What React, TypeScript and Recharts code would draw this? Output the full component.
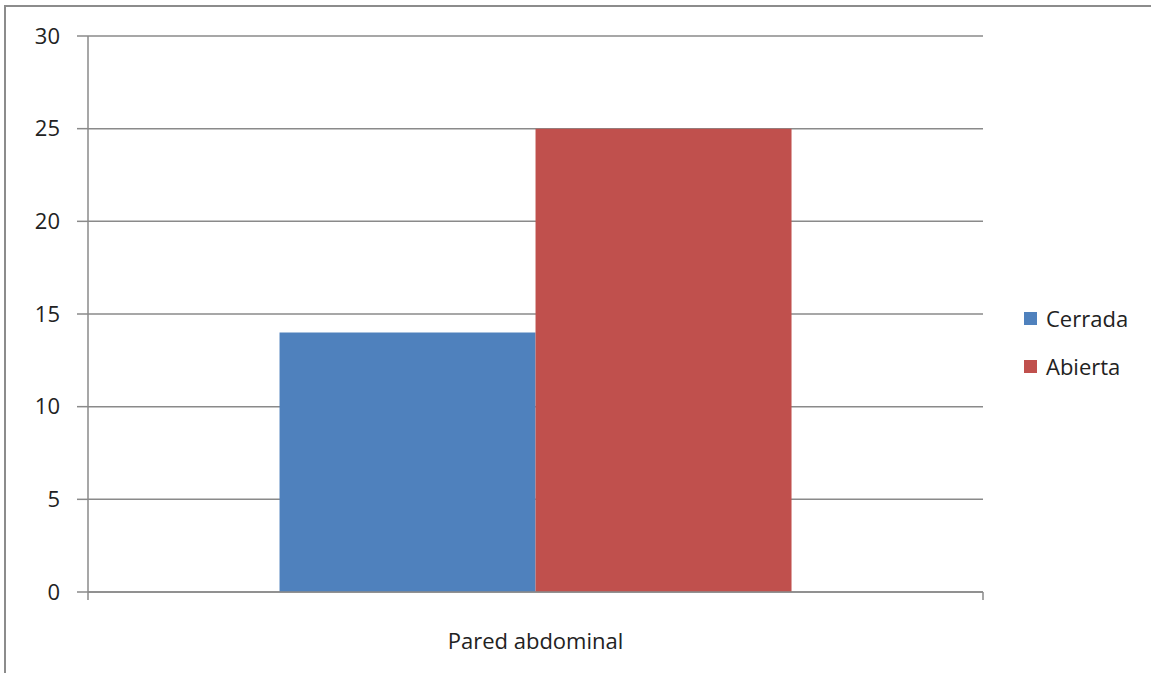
import React from "react";
import { BarChart, Bar, XAxis, YAxis, CartesianGrid, ReferenceLine } from "recharts";

const categories = ["Pared abdominal"];
const seriesNames = ["Cerrada", "Abierta"];
const cerrada = [14];
const abierta = [25];
const yTicks = [0, 5, 10, 15, 20, 25, 30];
const colors = ["#4F81BD", "#C0504D"];

const data = categories.map((name, i) => ({
  name,
  Cerrada: cerrada[i],
  Abierta: abierta[i],
}));

const font = "'Open Sans', sans-serif";
const axisGray = "#8a8a8a";
// how far the small ticks at both ends of the x axis reach below 0, in y units
const edgeTick = -0.43;

export default function App() {
  return (
    <div
      style={{
        position: "absolute",
        left: 0,
        top: 0,
        width: 1151,
        height: 673,
        background: "#fff",
        overflow: "hidden",
      }}
    >
      <div
        style={{
          position: "absolute",
          left: 4,
          top: 5,
          right: -4,
          bottom: -4,
          borderLeft: "2px solid #8c8c8c",
          borderTop: "2px solid #8c8c8c",
        }}
      />
      <div style={{ position: "absolute", left: 0, top: 0 }}>
        <BarChart
          width={1151}
          height={673}
          data={data}
          margin={{ top: 36, right: 168, bottom: 0, left: 0 }}
          barCategoryGap="21.4%"
          barGap={0}
        >
          <CartesianGrid vertical={false} stroke={axisGray} strokeWidth={1.5} />
          <XAxis
            dataKey="name"
            height={81}
            tickLine={false}
            axisLine={{ stroke: axisGray, strokeWidth: 1.5 }}
            tickMargin={35}
            tick={{ fontFamily: font, fontSize: 22, fill: "#222" }}
          />
          <YAxis
            domain={[0, 30]}
            ticks={yTicks}
            width={88}
            tickSize={11}
            tickMargin={17}
            allowDataOverflow
            axisLine={{ stroke: axisGray, strokeWidth: 1.5 }}
            tickLine={{ stroke: axisGray, strokeWidth: 1.5 }}
            tick={{ fontFamily: font, fontSize: 22, fill: "#222" }}
          />
          {seriesNames.map((s, i) => (
            <Bar key={s} dataKey={s} fill={colors[i]} isAnimationActive={false} />
          ))}
          {(["start", "end"] as const).map((pos) => (
            <ReferenceLine
              key={pos}
              position={pos}
              ifOverflow="visible"
              stroke={axisGray}
              strokeWidth={1.5}
              segment={[
                { x: categories[0], y: 0 },
                { x: categories[0], y: edgeTick },
              ]}
            />
          ))}
        </BarChart>
      </div>
      {/* legend, Excel style: small squares stacked at the right */}
      <div
        style={{
          position: "absolute",
          left: 1024,
          top: 294,
          fontFamily: font,
          fontSize: 22,
          color: "#222",
        }}
      >
        {seriesNames.map((s, i) => (
          <div key={s} style={{ display: "flex", alignItems: "center", height: 48 }}>
            <span
              style={{
                width: 13,
                height: 13,
                background: colors[i],
                display: "inline-block",
                marginRight: 9,
              }}
            />
            <span>{s}</span>
          </div>
        ))}
      </div>
    </div>
  );
}
